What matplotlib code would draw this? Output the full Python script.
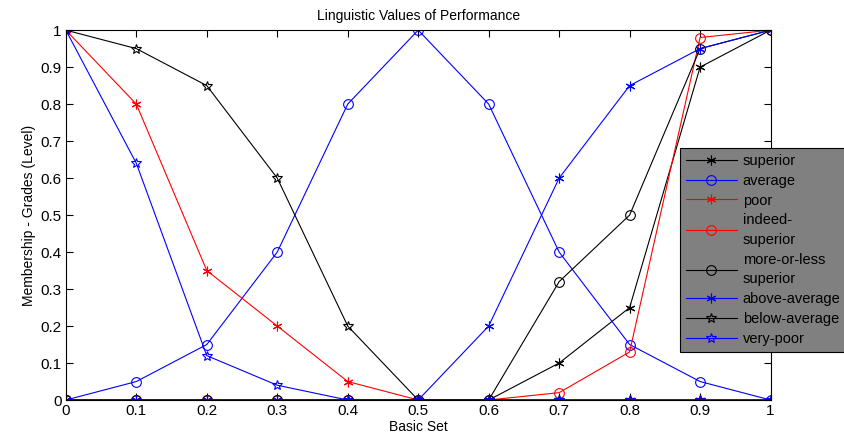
import numpy as np
import matplotlib.pyplot as plt

x = np.round(np.arange(0, 1.01, 0.1), 1)

superior = [0, 0, 0, 0, 0, 0, 0, 0.1, 0.25, 0.9, 1]
average = [0, 0.05, 0.15, 0.4, 0.8, 1, 0.8, 0.4, 0.15, 0.05, 0]
poor = [1, 0.8, 0.35, 0.2, 0.05, 0, 0, 0, 0, 0, 0]
indeed_superior = [0, 0, 0, 0, 0, 0, 0, 0.02, 0.13, 0.98, 1]
more_or_less_superior = [0, 0, 0, 0, 0, 0, 0, 0.32, 0.5, 0.95, 1]
above_average = [0, 0, 0, 0, 0, 0, 0.2, 0.6, 0.85, 0.95, 1]
below_average = [1, 0.95, 0.85, 0.6, 0.2, 0, 0, 0, 0, 0, 0]
very_poor = [1, 0.64, 0.12, 0.04, 0, 0, 0, 0, 0, 0, 0]

labels = ["superior", "average", "poor", "indeed-\nsuperior",
          "more-or-less\nsuperior", "above-average", "below-average", "very-poor"]

plt.rcParams["font.family"] = ["Liberation Sans", "DejaVu Sans"]
plt.rcParams["font.size"] = 10

asterisk = (6, 2, 0)
series = [
    (superior, "k", asterisk, "k"),
    (average, "b", "o", "none"),
    (poor, "r", asterisk, "r"),
    (indeed_superior, "r", "o", "none"),
    (more_or_less_superior, "k", "o", "none"),
    (above_average, "b", asterisk, "b"),
    (below_average, "k", "*", "none"),
    (very_poor, "b", "*", "none"),
]

fig = plt.figure(figsize=(8.44, 4.43), dpi=100)
ax = fig.add_axes([0.078, 0.097, 0.835, 0.835])

for (y, c, m, fc), lab in zip(series, labels):
    ax.plot(x, y, color=c, marker=m, markersize=7, markerfacecolor=fc,
            markeredgecolor=c, markeredgewidth=0.8, linewidth=0.8, label=lab)

ax.set_xlim(0, 1)
ax.set_ylim(0, 1)
ax.set_xticks(x)
ax.set_xticklabels(["0", "0.1", "0.2", "0.3", "0.4", "0.5", "0.6", "0.7", "0.8", "0.9", "1"])
ax.set_yticks(x)
ax.set_yticklabels(["0", "0.1", "0.2", "0.3", "0.4", "0.5", "0.6", "0.7", "0.8", "0.9", "1"])
ax.tick_params(direction="in", top=True, right=True, length=5, labelsize=11, pad=3)
ax.set_title("Linguistic Values of Performance", fontsize=10, pad=7)
ax.set_xlabel("Basic Set", fontsize=10, labelpad=1)
ax.set_ylabel("Membership - Grades (Level)", fontsize=10, labelpad=3)

leg = fig.legend(loc="upper left", bbox_to_anchor=(680 / 844, 1 - 148 / 443),
                 frameon=True, fancybox=False, facecolor="#808080",
                 edgecolor="k", framealpha=1, fontsize=10.5, handlelength=3.5,
                 handletextpad=0.4, labelspacing=0.4, borderpad=0.4,
                 borderaxespad=0)
leg.get_frame().set_linewidth(0.8)
for t in leg.get_texts():
    t.set_linespacing(1.5)

fig.savefig("out.png", dpi=100)
